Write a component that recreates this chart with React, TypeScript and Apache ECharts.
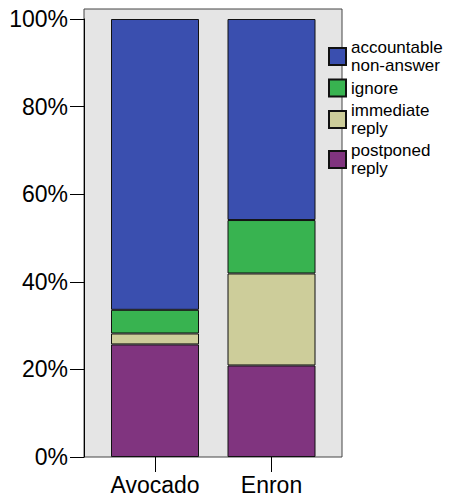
import React, { useEffect, useRef } from "react";
import * as echarts from "echarts";

const categories = ["Avocado", "Enron"];
const yTicks = [0, 20, 40, 60, 80, 100];
const seriesNames = ["postponed reply", "immediate reply", "ignore", "accountable non-answer"];
const postponedReply = [25.7, 20.9];
const immediateReply = [2.5, 21.0];
const ignoreVals = [5.4, 12.2];
const accountableNonAnswer = [66.4, 45.9];
const legendOrder = ["accountable non-answer", "ignore", "immediate reply", "postponed reply"];
const legendLabels: Record<string, string> = {
  "accountable non-answer": "accountable\nnon-answer",
  ignore: "ignore",
  "immediate reply": "immediate\nreply",
  "postponed reply": "postponed\nreply",
};
const colors: Record<string, string> = {
  "postponed reply": "#80347f",
  "immediate reply": "#cdcd9a",
  ignore: "#38b350",
  "accountable non-answer": "#3a4faf",
};

export default function App() {
  const ref = useRef<HTMLDivElement>(null);
  useEffect(() => {
    if (!ref.current) return;
    const chart = echarts.init(ref.current, null, { renderer: "svg" });
    const font = "'Liberation Sans', Arial, Helvetica, sans-serif";
    const values = [postponedReply, immediateReply, ignoreVals, accountableNonAnswer];
    chart.setOption({
      animation: false,
      textStyle: { fontFamily: font },
      graphic: [
        {
          type: "rect",
          z: 0,
          shape: { x: 84, y: 9, width: 258, height: 448 },
          style: { fill: "#e5e5e5", stroke: "#444", lineWidth: 1 },
        },
      ],
      grid: [
        { left: 84, top: 19, width: 258, height: 438 },
        { left: 96.75, top: 19, width: 233, height: 438 },
      ],
      xAxis: [
        { gridIndex: 0, type: "value", show: false, min: 0, max: 1 },
        {
          gridIndex: 1,
          type: "category",
          data: categories,
          axisLine: { show: false },
          axisTick: { show: true, alignWithLabel: true, length: 15, lineStyle: { color: "#000" } },
          axisLabel: { fontSize: 23, color: "#000", margin: 16, fontFamily: font },
        },
      ],
      yAxis: [
        {
          gridIndex: 0,
          type: "value",
          min: yTicks[0],
          max: yTicks[yTicks.length - 1],
          interval: 20,
          axisLine: { show: true, lineStyle: { color: "#000" } },
          axisTick: { show: true, length: 14, lineStyle: { color: "#000" } },
          axisLabel: { fontSize: 23, color: "#000", margin: 16, formatter: "{value}%", fontFamily: font },
          splitLine: { show: false },
        },
        { gridIndex: 1, type: "value", min: 0, max: 100, show: false },
      ],
      legend: {
        orient: "vertical",
        left: 328,
        top: 38.5,
        padding: 0,
        itemGap: 4,
        itemWidth: 17,
        itemHeight: 17,
        data: legendOrder,
        formatter: (n: string) => legendLabels[n],
        textStyle: { fontSize: 17, lineHeight: 18, color: "#000", fontFamily: font },
        icon: "rect",
      },
      series: seriesNames.map((name, i) => ({
        name,
        type: "bar",
        stack: "total",
        xAxisIndex: 1,
        yAxisIndex: 1,
        barWidth: 88,
        data: values[i],
        itemStyle: { color: colors[name], borderColor: "#111", borderWidth: 1 },
      })),
    });
    return () => chart.dispose();
  }, []);
  return (
    <div
      ref={ref}
      style={{ position: "fixed", left: 0, top: 0, width: 452, height: 502, background: "#fff" }}
    />
  );
}
